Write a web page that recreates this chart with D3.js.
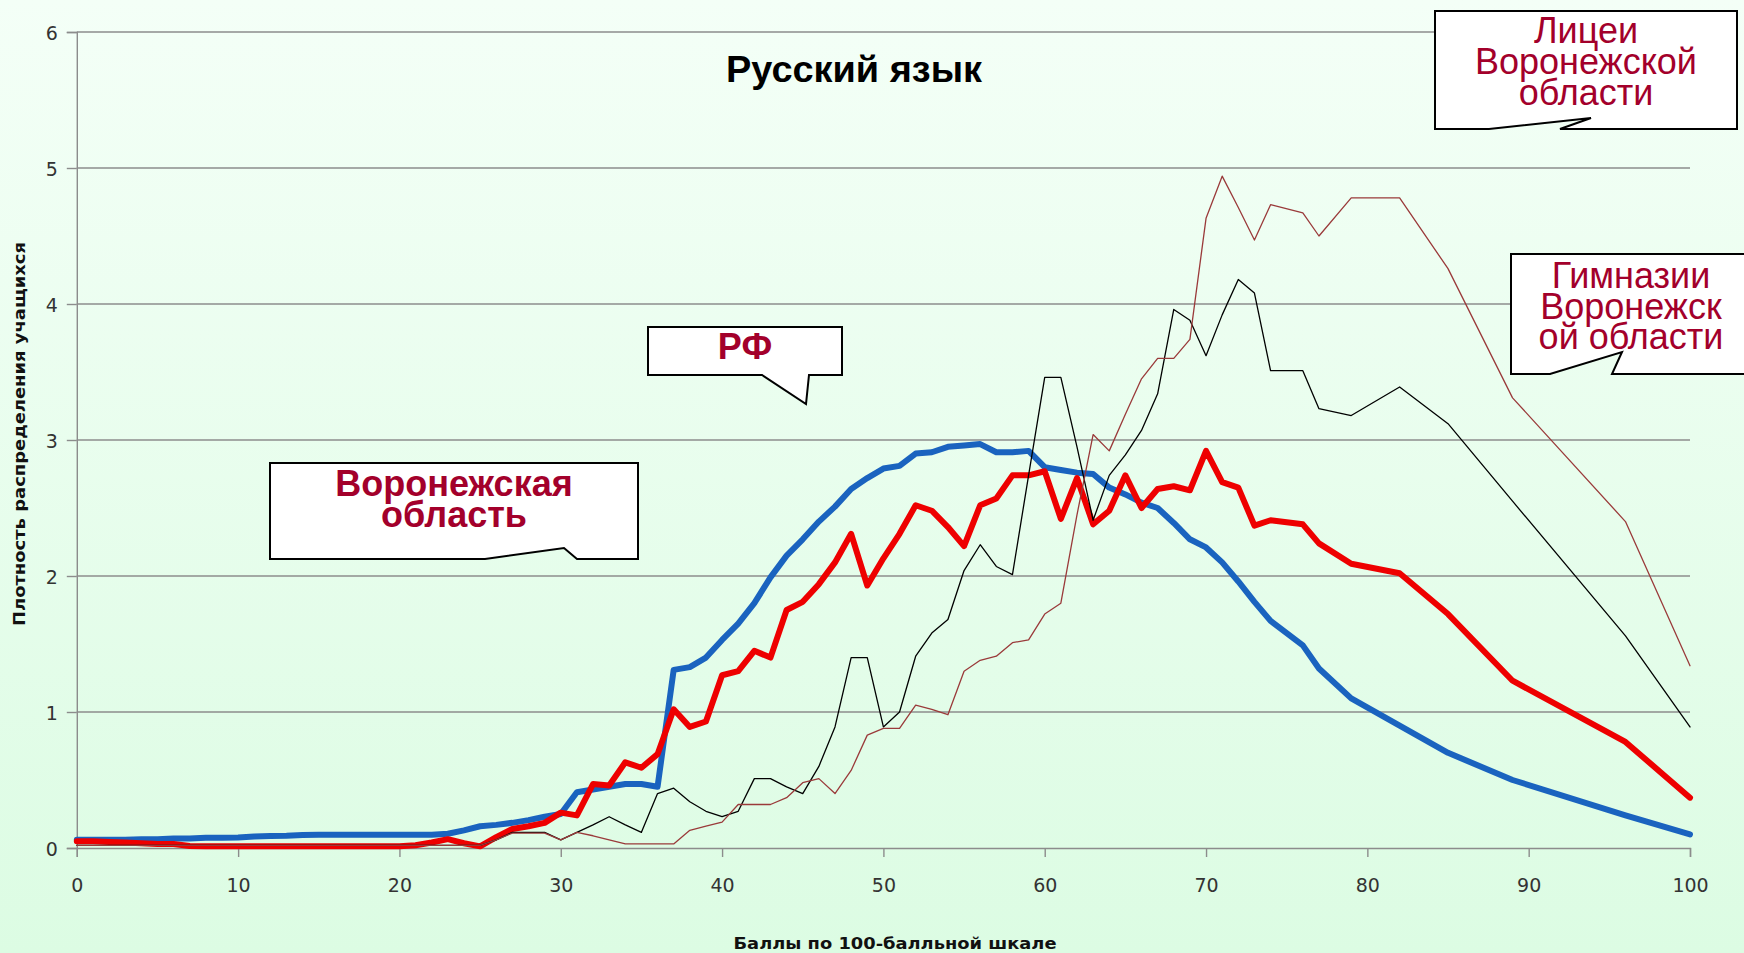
<!DOCTYPE html>
<html>
<head>
<meta charset="utf-8">
<script src="https://cdn.jsdelivr.net/npm/d3@7"></script>
<style>
  html, body { margin: 0; padding: 0; overflow: hidden; }
  svg { display: block; }
</style>
</head>
<body>
<svg id="chart" width="1744" height="953"></svg>
<script>
// ---------- DATA ----------
const scores = [0,1,2,3,4,5,6,7,8,9,10,11,12,13,14,15,16,17,18,19,20,21,22,23,24,25,26,27,28,29,
  30,31,32,33,34,35,36,37,38,39,40,41,42,43,44,45,46,47,48,49,50,51,52,53,54,55,56,57,58,59,
  60,61,62,63,64,65,66,67,68,69,70,71,72,73,74,76,77,79,82,85,89,96,100];

const rf = [0.06,0.06,0.06,0.06,0.065,0.065,0.07,0.07,0.075,0.075,0.078,0.085,0.088,0.09,0.096,0.097,0.097,0.097,0.097,0.097,
  0.097,0.097,0.098,0.105,0.13,0.16,0.17,0.185,0.205,0.23,
  0.25,0.41,0.43,0.45,0.47,0.47,0.45,1.31,1.33,1.40,1.53,1.65,1.80,1.99,2.15,2.27,2.40,2.51,2.64,2.72,
  2.79,2.81,2.90,2.91,2.95,2.96,2.97,2.91,2.91,2.92,2.80,2.78,2.76,2.75,2.65,2.60,2.54,2.50,2.39,2.27,
  2.21,2.10,1.96,1.81,1.67,1.49,1.32,1.10,0.90,0.70,0.50,0.24,0.10];

const voronezh = [0.05,0.05,0.045,0.04,0.035,0.03,0.03,0.015,0.012,0.012,0.012,0.012,0.012,0.012,0.012,0.012,0.012,0.012,0.012,0.012,
  0.012,0.02,0.04,0.065,0.035,0.012,0.08,0.14,0.16,0.185,
  0.26,0.24,0.47,0.46,0.63,0.59,0.69,1.02,0.89,0.93,1.27,1.30,1.45,1.40,1.75,1.81,1.94,2.10,2.31,1.93,
  2.13,2.31,2.52,2.48,2.36,2.22,2.52,2.57,2.74,2.74,2.77,2.42,2.72,2.38,2.48,2.74,2.50,2.64,2.66,2.63,
  2.92,2.69,2.65,2.37,2.41,2.38,2.24,2.09,2.02,1.72,1.23,0.78,0.37];

const gymnasia = [0.02,0.02,0.02,0.02,0.02,0.02,0.02,0.02,0.02,0.02,0.02,0.02,0.02,0.02,0.02,0.02,0.02,0.02,0.02,0.02,
  0.02,0.02,0.02,0.02,0.02,0.02,0.06,0.115,0.115,0.115,
  0.06,0.115,0.17,0.23,0.17,0.115,0.40,0.44,0.34,0.27,0.23,0.27,0.51,0.51,0.45,0.40,0.60,0.89,1.40,1.40,
  0.89,1.00,1.41,1.58,1.68,2.04,2.23,2.07,2.01,2.74,3.46,3.46,2.95,2.41,2.74,2.89,3.07,3.34,3.96,3.88,
  3.62,3.92,4.18,4.08,3.51,3.51,3.23,3.18,3.39,3.12,2.55,1.56,0.89];

const lycea = [0.02,0.02,0.02,0.02,0.02,0.02,0.02,0.02,0.02,0.02,0.02,0.02,0.02,0.02,0.02,0.02,0.02,0.02,0.02,0.02,
  0.02,0.02,0.02,0.02,0.02,0.02,0.06,0.11,0.11,0.11,
  0.06,0.115,0.09,0.06,0.03,0.03,0.03,0.03,0.13,0.16,0.19,0.32,0.32,0.32,0.37,0.48,0.51,0.40,0.57,0.83,
  0.88,0.88,1.05,1.02,0.98,1.30,1.38,1.41,1.51,1.53,1.72,1.80,2.45,3.04,2.92,3.19,3.45,3.60,3.60,3.74,
  4.63,4.94,4.71,4.47,4.73,4.67,4.50,4.78,4.78,4.26,3.31,2.40,1.34];

const xTicks = [0,10,20,30,40,50,60,70,80,90,100];
const yTicks = [0,1,2,3,4,5,6];

const title = "Русский язык";
const xTitle = "Баллы по 100-балльной шкале";
const yTitle = "Плотность распределения учащихся";

// ---------- LAYOUT ----------
const svg = d3.select("#chart");
const W = 1744, H = 953;
const x = d3.scaleLinear().domain([0, 100]).range([76.8, 1690]);
const y = d3.scaleLinear().domain([0, 6]).range([848, 32]);

const defs = svg.append("defs");
const grad = defs.append("linearGradient").attr("id", "bg").attr("x1", 0).attr("y1", 0).attr("x2", 0).attr("y2", 1);
grad.append("stop").attr("offset", "0%").attr("stop-color", "#f4fff7");
grad.append("stop").attr("offset", "100%").attr("stop-color", "#dcfce3");
svg.append("rect").attr("width", W).attr("height", H).attr("fill", "url(#bg)");

// gridlines
svg.append("g").selectAll("line").data(yTicks.filter(d => d > 0)).join("line")
  .attr("x1", x(0)).attr("x2", x(100))
  .attr("y1", d => y(d)).attr("y2", d => y(d))
  .attr("stroke", "#8c8c8c").attr("stroke-width", 1.4);

// y axis
const yAxis = svg.append("g").attr("transform", `translate(${x(0)},0)`)
  .call(d3.axisLeft(y).tickValues(yTicks).tickSize(10).tickPadding(9).tickFormat(d3.format("d")));
yAxis.select(".domain").attr("stroke", "#8c8c8c").attr("stroke-width", 1.4);
yAxis.selectAll(".tick line").attr("stroke", "#8c8c8c").attr("stroke-width", 1.4);
yAxis.selectAll(".tick text").attr("font-family", "DejaVu Sans").attr("font-size", 19)
  .attr("fill", "#333").attr("dy", "0.42em");

// x axis
const xAxis = svg.append("g").attr("transform", `translate(0,${y(0)})`)
  .call(d3.axisBottom(x).tickValues(xTicks).tickSize(9).tickPadding(22).tickFormat(d3.format("d")));
xAxis.select(".domain").attr("stroke", "#8c8c8c").attr("stroke-width", 1.4);
xAxis.selectAll(".tick line").attr("stroke", "#8c8c8c").attr("stroke-width", 1.4);
xAxis.selectAll(".tick text").attr("font-family", "DejaVu Sans").attr("font-size", 19)
  .attr("fill", "#333");

// lines
const series = [
  { name: "РФ", values: rf, color: "#1a63bf", width: 6 },
  { name: "Воронежская область", values: voronezh, color: "#ee0000", width: 6 },
  { name: "Гимназии", values: gymnasia, color: "#000000", width: 1.3 },
  { name: "Лицеи", values: lycea, color: "#9a3a3a", width: 1.3 }
];
const line = d3.line().x((d, i) => x(scores[i])).y(d => y(d));
svg.append("g").selectAll("path").data(series).join("path")
  .attr("d", s => line(s.values))
  .attr("fill", "none")
  .attr("stroke", s => s.color)
  .attr("stroke-width", s => s.width)
  .attr("stroke-linejoin", "round")
  .attr("stroke-linecap", "round");

// titles
svg.append("text").attr("x", 854).attr("y", 82).attr("text-anchor", "middle")
  .attr("font-family", "Liberation Sans").attr("font-weight", "bold").attr("font-size", 37)
  .attr("textLength", 256).attr("lengthAdjust", "spacingAndGlyphs")
  .attr("fill", "#000").text(title);

svg.append("text").attr("x", 895).attr("y", 949).attr("text-anchor", "middle")
  .attr("font-family", "DejaVu Sans").attr("font-weight", "bold").attr("font-size", 16)
  .attr("textLength", 323).attr("lengthAdjust", "spacingAndGlyphs")
  .attr("fill", "#111").text(xTitle);

svg.append("text").attr("transform", "translate(25,434) rotate(-90)").attr("text-anchor", "middle")
  .attr("font-family", "DejaVu Sans").attr("font-weight", "bold").attr("font-size", 16)
  .attr("textLength", 384).attr("lengthAdjust", "spacingAndGlyphs")
  .attr("fill", "#111").text(yTitle);

// callouts
const crimson = "#a3002b";
const callouts = [
  { path: "M1435,11 H1737 V129 H1560 L1591,118 L1489,129 H1435 Z",
    lines: ["Лицеи", "Воронежской", "области"], cx: 1586, base: [43, 74, 105], bold: false },
  { path: "M1511,254 H1770 V374 H1612 L1622,352 L1550,374 H1511 Z",
    lines: ["Гимназии", "Воронежск", "ой области"], cx: 1631, base: [288, 319, 349], bold: false },
  { path: "M648,327 H842 V375 H809 L806,404 L762,375 H648 Z",
    lines: ["РФ"], cx: 745, base: [359], bold: true },
  { path: "M270,463 H638 V559 H577 L564,548 L485,559 H270 Z",
    lines: ["Воронежская", "область"], cx: 454, base: [496, 527], bold: true }
];
const cg = svg.append("g");
callouts.forEach(c => {
  cg.append("path").attr("d", c.path).attr("fill", "#ffffff")
    .attr("stroke", "#000").attr("stroke-width", 2).attr("stroke-linejoin", "miter");
  c.lines.forEach((t, i) => {
    cg.append("text").attr("x", c.cx).attr("y", c.base[i]).attr("text-anchor", "middle")
      .attr("font-family", "Liberation Sans").attr("font-size", 36)
      .attr("font-weight", c.bold ? "bold" : "normal")
      .attr("fill", crimson).text(t);
  });
});
</script>
</body>
</html>
